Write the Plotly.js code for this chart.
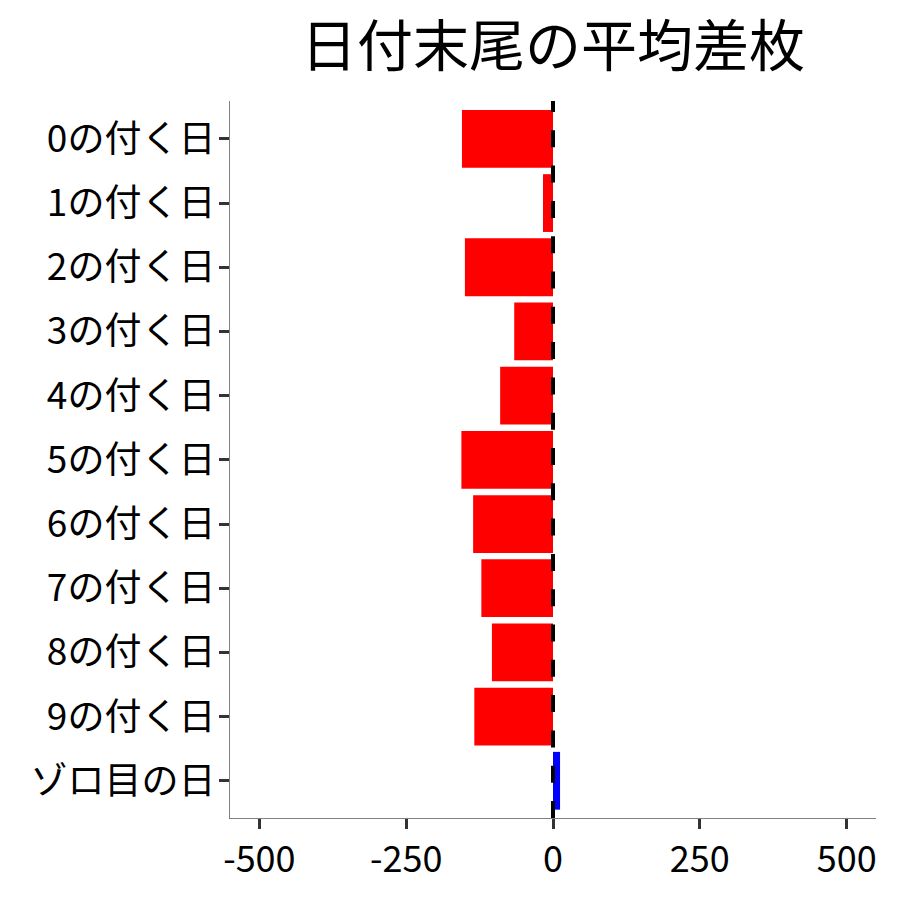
<!DOCTYPE html>
<html>
<head>
<meta charset="utf-8">
<script src="https://cdn.plot.ly/plotly-3.0.1.min.js"></script>
<style>html,body{margin:0;padding:0;background:#fff;}#chart{width:900px;height:900px;}</style>
</head>
<body>
<div id="chart"></div>
<script>
const categories = ["0の付く日","1の付く日","2の付く日","3の付く日","4の付く日","5の付く日","6の付く日","7の付く日","8の付く日","9の付く日","ゾロ目の日"];
const values = [-155, -17, -150, -66, -90, -156, -136, -122, -104, -134, 12];
const xTicks = [-500, -250, 0, 250, 500];
const titleText = "日付末尾の平均差枚";

const FONT = '"Noto Sans CJK JP", "Noto Sans", sans-serif';
const colors = values.map(v => v >= 0 ? "#0000FF" : "#FF0000");

const trace = {
  type: "bar",
  orientation: "h",
  x: values,
  y: categories,
  width: 0.9,
  marker: {color: colors, line: {width: 0}},
  hoverinfo: "x+y"
};

const layout = {
  width: 900, height: 900,
  paper_bgcolor: "#fff", plot_bgcolor: "#fff",
  margin: {l: 230, r: 24, t: 101, b: 82, pad: 0},
  showlegend: false,
  font: {family: FONT, color: "#000"},
  title: {text: titleText, font: {family: FONT, size: 56, color: "#000"},
          xref: "paper", x: 0.5, xanchor: "center", yref: "container", y: 0.948, yanchor: "middle"},
  xaxis: {
    range: [-550, 550], tickvals: xTicks, ticktext: xTicks.map(String),
    showgrid: false, zeroline: false,
    showline: true, linecolor: "#808080", linewidth: 1.2,
    ticks: "outside", ticklen: 10, tickwidth: 3, tickcolor: "#333",
    tickfont: {family: FONT, size: 36, color: "#000"}
  },
  yaxis: {
    type: "category", categoryorder: "array", categoryarray: categories,
    range: [10.58, -0.59],
    showgrid: false, zeroline: false,
    showline: true, linecolor: "#808080", linewidth: 1.2,
    ticks: "outside", ticklen: 10, tickwidth: 3, tickcolor: "#333",
    ticklabelstandoff: -4,
    tickfont: {family: FONT, size: 37, color: "#000"}
  },
  shapes: [{
    type: "line", xref: "x", yref: "paper", x0: 0, x1: 0, y0: 0, y1: 1,
    line: {color: "#000", width: 4, dash: "17px,18.3px"}, layer: "above"
  }]
};

Plotly.newPlot("chart", [trace], layout, {staticPlot: true, displayModeBar: false});
</script>
</body>
</html>
